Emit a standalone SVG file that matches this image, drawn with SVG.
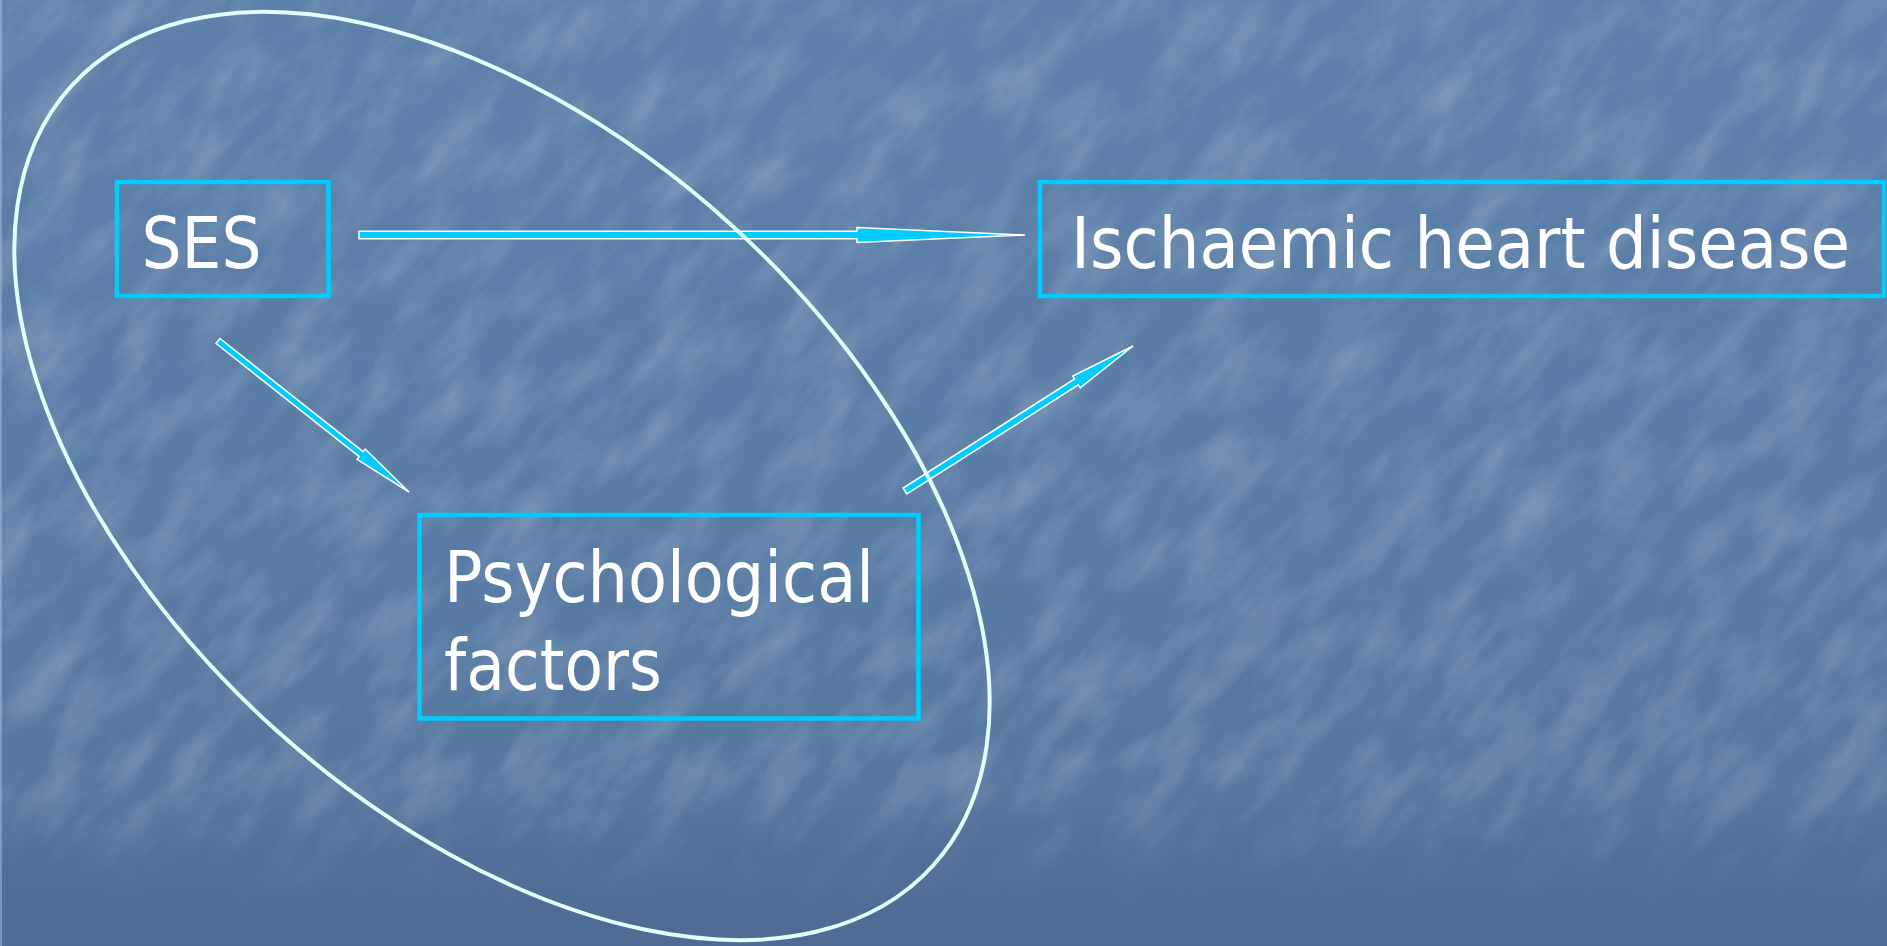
<svg xmlns="http://www.w3.org/2000/svg" width="1887" height="946" viewBox="0 0 1887 946">
  <style>
    .box { fill: none; stroke: #00CCFF; stroke-width: 4.5; }
    .label { font-family: "DejaVu Sans", "Liberation Sans", sans-serif; font-size: 72px; fill: #FFFFFF; }
    .arrow { fill: #00CCFF; stroke: #FFFFFF; stroke-width: 1.5; stroke-linejoin: miter; }
    .loop { fill: none; stroke: #E2FFFF; stroke-width: 4; }
  </style>
  <defs>
    <linearGradient id="bg" x1="0" y1="0" x2="0" y2="1">
      <stop offset="0" stop-color="#5C80A9"/>
      <stop offset="0.55" stop-color="#597CA5"/>
      <stop offset="0.84" stop-color="#56789F"/>
      <stop offset="0.9" stop-color="#4F7098"/>
      <stop offset="1" stop-color="#4C6C93"/>
    </linearGradient>
    <linearGradient id="fade" x1="0" y1="0" x2="0" y2="1">
      <stop offset="0" stop-color="#FFFFFF"/>
      <stop offset="0.82" stop-color="#FFFFFF"/>
      <stop offset="0.96" stop-color="#000000"/>
    </linearGradient>
    <mask id="texMask">
      <rect width="1887" height="946" fill="url(#fade)"/>
    </mask>
    <!-- mottled paper texture -->
    <filter id="grain" x="0" y="0" width="100%" height="100%">
      <feTurbulence type="fractalNoise" baseFrequency="0.012 0.03" numOctaves="4" seed="11" result="n"/>
      <feColorMatrix in="n" type="matrix" values="0 0 0 0 1  0 0 0 0 1  0 0 0 0 1  0 0 0 1.6 -0.62"/>
    </filter>
  </defs>

  <!-- background -->
  <rect width="1887" height="946" fill="url(#bg)"/>
  <g mask="url(#texMask)" opacity="0.22">
    <rect x="-900" y="-900" width="3700" height="2800" filter="url(#grain)" transform="rotate(-50 943 473)"/>
  </g>
  <rect x="0" y="0" width="2" height="946" fill="#A8C0DA" opacity="0.5"/>

  <!-- nodes -->
  <g id="node-ses">
    <rect class="box" x="117" y="182" width="211.5" height="114"/>
    <text class="label" x="141.5" y="268" textLength="120" lengthAdjust="spacingAndGlyphs">SES</text>
  </g>
  <g id="node-ihd">
    <rect class="box" x="1040" y="182" width="844" height="114"/>
    <text class="label" x="1071" y="268" textLength="779" lengthAdjust="spacingAndGlyphs">Ischaemic heart disease</text>
  </g>
  <g id="node-psych">
    <rect class="box" x="419.5" y="515" width="499" height="203.5"/>
    <text class="label" x="444" y="602" textLength="430" lengthAdjust="spacingAndGlyphs">Psychological</text>
    <text class="label" x="444" y="690" textLength="218" lengthAdjust="spacingAndGlyphs">factors</text>
  </g>

  <!-- connectors -->
  <g id="connectors">
    <polygon class="arrow" points="359,231.2 857,231.2 857,227.5 1025,235 857,242.5 857,238.8 359,238.8"/>
    <polygon class="arrow" points="216.05,343.47 359.2,456.64 357.12,459.27 409,492 365.18,449.07 363.1,451.7 219.95,338.53"/>
    <polygon class="arrow" points="906.88,493.95 1078.35,384.9 1080.23,387.86 1133,346 1072.71,376.04 1074.59,379.0 903.12,488.05"/>
  </g>

  <!-- grouping loop -->
  <g id="group-loop">
    <ellipse class="loop" cx="502" cy="476" rx="581" ry="340" transform="rotate(42.1 502 476)"/>
  </g>
</svg>
